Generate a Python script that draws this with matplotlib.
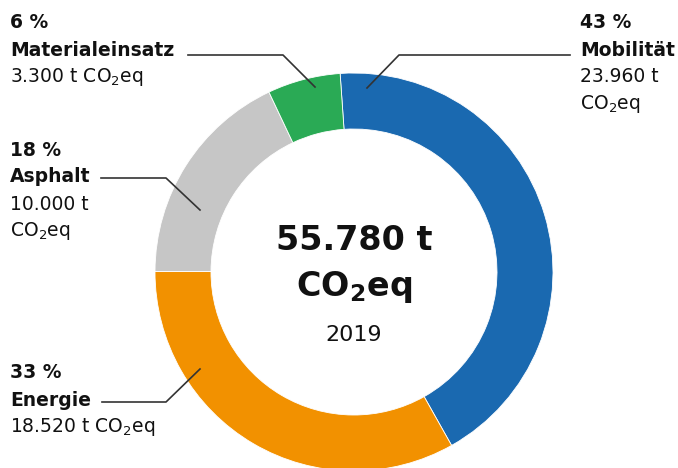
import matplotlib
matplotlib.use("Agg")
import matplotlib.pyplot as plt

# data
categories = ["Mobilität", "Energie", "Asphalt", "Materialeinsatz"]
values = [23960, 18520, 10000, 3300]
percents = ["43 %", "33 %", "18 %", "6 %"]
amounts = ["23.960 t", "18.520 t", "10.000 t", "3.300 t"]
colors = ["#1a69b0", "#f29100", "#c6c6c6", "#2aaa55"]
total_label = "55.780 t"
year = "2019"

plt.rcParams["font.family"] = ["DejaVu Sans"]
plt.rcParams["mathtext.fontset"] = "dejavusans"

W, H = 678, 468
fig = plt.figure(figsize=(W / 100, H / 100), dpi=100)
ax = fig.add_axes([0, 0, 1, 1])

cx, cy, R = 354, H - 272, 199
ax.pie(values, colors=colors, startangle=94, counterclock=False,
       center=(cx, cy), radius=R, frame=True,
       wedgeprops=dict(width=56, edgecolor="white", linewidth=0.6))
ax.set_xlim(0, W)
ax.set_ylim(0, H)
ax.set_aspect("equal")
ax.axis("off")

def Y(y):
    return H - y

txt = "#111111"
fs = 13.5
co2 = r"CO$_\mathregular{2}$eq"
co2_bold = r"CO$_\mathbf{2}$eq"

# center text
ax.text(cx, Y(241), total_label, ha="center", va="center", fontsize=24, fontweight="bold", color=txt)
ax.text(cx, Y(287), co2_bold, ha="center", va="center", fontsize=24, fontweight="bold", color=txt)
ax.text(cx, Y(335), year, ha="center", va="center", fontsize=16, color=txt)

# Materialeinsatz (top left)
ax.text(10, Y(23), percents[3], ha="left", va="center", fontsize=fs, fontweight="bold", color=txt)
ax.text(10, Y(50), categories[3], ha="left", va="center", fontsize=fs, fontweight="bold", color=txt)
ax.text(10, Y(77), amounts[3] + " " + co2, ha="left", va="center", fontsize=fs, color=txt)
ax.plot([188, 283, 315], [Y(55), Y(55), Y(87)], color="#333333", lw=1.2)

# Mobilität (top right)
ax.text(580, Y(23), percents[0], ha="left", va="center", fontsize=fs, fontweight="bold", color=txt)
ax.text(580, Y(50), categories[0], ha="left", va="center", fontsize=fs, fontweight="bold", color=txt)
ax.text(580, Y(77), amounts[0], ha="left", va="center", fontsize=fs, color=txt)
ax.text(580, Y(104), co2, ha="left", va="center", fontsize=fs, color=txt)
ax.plot([570, 399, 367], [Y(55), Y(55), Y(88)], color="#333333", lw=1.2)

# Asphalt (left)
ax.text(10, Y(150), percents[2], ha="left", va="center", fontsize=fs, fontweight="bold", color=txt)
ax.text(10, Y(177), categories[2], ha="left", va="center", fontsize=fs, fontweight="bold", color=txt)
ax.text(10, Y(204), amounts[2], ha="left", va="center", fontsize=fs, color=txt)
ax.text(10, Y(231), co2, ha="left", va="center", fontsize=fs, color=txt)
ax.plot([101, 166, 200], [Y(178), Y(178), Y(210)], color="#333333", lw=1.2)

# Energie (bottom left)
ax.text(10, Y(373), percents[1], ha="left", va="center", fontsize=fs, fontweight="bold", color=txt)
ax.text(10, Y(400), categories[1], ha="left", va="center", fontsize=fs, fontweight="bold", color=txt)
ax.text(10, Y(427), amounts[1] + " " + co2, ha="left", va="center", fontsize=fs, color=txt)
ax.plot([102, 166, 200], [Y(402), Y(402), Y(369)], color="#333333", lw=1.2)

fig.savefig("out.png", dpi=100)
